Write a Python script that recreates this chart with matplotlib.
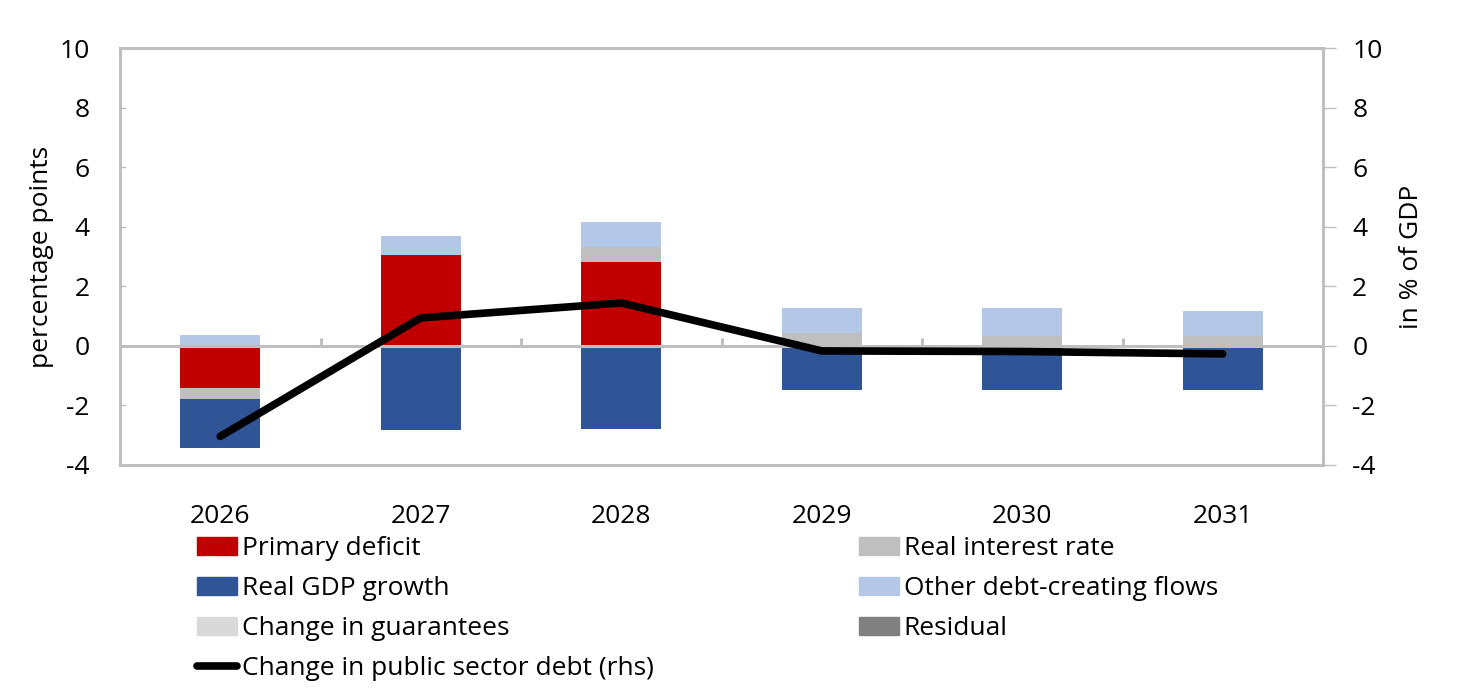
import matplotlib.pyplot as plt
import numpy as np
from matplotlib.patches import Patch
from matplotlib.lines import Line2D

plt.rcParams['font.family'] = ['Open Sans', 'DejaVu Sans']
plt.rcParams['axes.unicode_minus'] = False

years = ["2026", "2027", "2028", "2029", "2030", "2031"]
primary_deficit = [-1.42, 3.05, 2.82, 0.0, 0.0, 0.0]
real_interest = [-0.37, 0.0, 0.50, 0.44, 0.34, 0.34]
real_gdp_growth = [-1.64, -2.82, -2.79, -1.47, -1.47, -1.47]
other_flows = [0.37, 0.64, 0.84, 0.84, 0.94, 0.83]
guarantees = [0.0, 0.0, 0.0, 0.0, 0.0, 0.0]
residual = [0.0, 0.0, 0.0, 0.0, 0.0, 0.0]
debt_change = [-3.04, 0.94, 1.44, -0.17, -0.19, -0.27]

series = [
    ("Primary deficit", primary_deficit, "#C00000"),
    ("Real interest rate", real_interest, "#BFBFBF"),
    ("Real GDP growth", real_gdp_growth, "#2F5597"),
    ("Other debt-creating flows", other_flows, "#B4C7E7"),
    ("Change in guarantees", guarantees, "#D9D9D9"),
    ("Residual", residual, "#808080"),
]

grey = "#BFBFBF"
fs = 19

fig = plt.figure(figsize=(14.76, 6.97), dpi=100)
ax = fig.add_axes([120 / 1476, 1 - 465 / 697, 1203 / 1476, 417 / 697])

x = np.arange(len(years))
pos = np.zeros(len(years))
neg = np.zeros(len(years))
for name, vals, col in series:
    v = np.array(vals)
    bottom = np.where(v >= 0, pos, neg)
    ax.bar(x, v, 0.4, bottom=bottom, color=col, zorder=2)
    pos = pos + np.where(v >= 0, v, 0)
    neg = neg + np.where(v < 0, v, 0)

ax.set_xlim(-0.5, len(years) - 0.5)
ax.set_ylim(-4, 10)
ax.set_yticks(range(-4, 11, 2))
ax.set_xticks(x)
ax.set_xticklabels(years)
ax.tick_params(axis='x', length=0, pad=28, labelsize=fs)
ax.tick_params(axis='y', direction='in', length=4, width=1, color=grey, pad=22, labelsize=fs)
for s in ax.spines.values():
    s.set_color(grey)
    s.set_linewidth(2.2)

# zero line and category tick marks
ax.axhline(0, color=grey, lw=2.2, zorder=3)
ax.vlines(np.arange(1, len(years)) - 0.5, 0, 0.27, color=grey, lw=2.2, zorder=3)
ax.set_ylabel("percentage points", fontsize=fs, labelpad=4)

ax2 = ax.twinx()
ax2.set_ylim(-4, 10)
ax2.set_yticks(range(-4, 11, 2))
ax2.tick_params(axis='y', direction='out', length=9, width=1, color=grey, pad=12, labelsize=fs)
for s in ax2.spines.values():
    s.set_visible(False)
ax2.plot(x, debt_change, color="black", lw=5.5, solid_capstyle='round', solid_joinstyle='round', zorder=5)
ax2.set_ylabel("in % of GDP", fontsize=fs, labelpad=12)

h = {name: Patch(color=col) for name, vals, col in series}
line_h = Line2D([], [], color="black", lw=5.5, solid_capstyle='round')
kw = dict(frameon=False, fontsize=fs, handlelength=1.5, handleheight=0.65,
          handletextpad=0.2, labelspacing=0.57, borderpad=0, borderaxespad=0, loc='upper left')
fig.legend([h["Primary deficit"], h["Real GDP growth"], h["Change in guarantees"], line_h],
           ["Primary deficit", "Real GDP growth", "Change in guarantees",
            "Change in public sector debt (rhs)"],
           bbox_to_anchor=(197 / 1476, 1 - 536 / 697), **kw)
fig.legend([h["Real interest rate"], h["Other debt-creating flows"], h["Residual"]],
           ["Real interest rate", "Other debt-creating flows", "Residual"],
           bbox_to_anchor=(859 / 1476, 1 - 536 / 697), **kw)

fig.savefig("out.png", dpi=100)
